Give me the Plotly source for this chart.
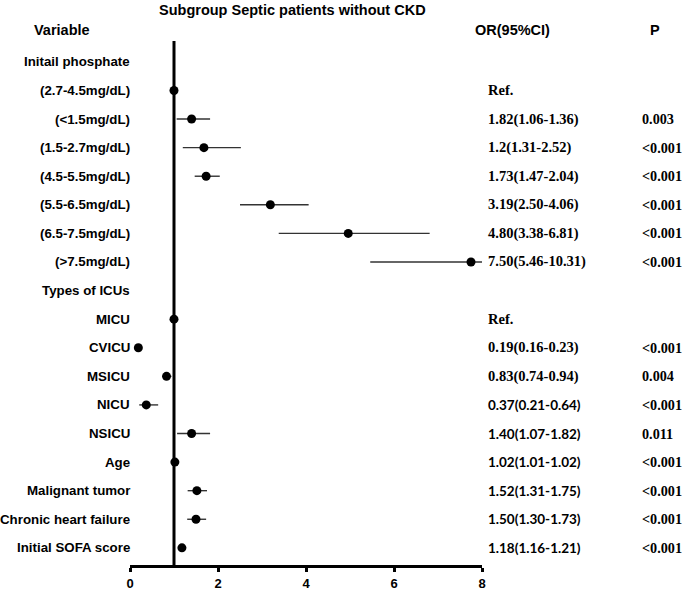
import plotly.graph_objects as go

title = "Subgroup Septic patients without CKD"
labels = ["Initail phosphate", "(2.7-4.5mg/dL)", "(<1.5mg/dL)", "(1.5-2.7mg/dL)", "(4.5-5.5mg/dL)",
          "(5.5-6.5mg/dL)", "(6.5-7.5mg/dL)", "(>7.5mg/dL)", "Types of ICUs", "MICU", "CVICU",
          "MSICU", "NICU", "NSICU", "Age", "Malignant tumor", "Chronic heart failure", "Initial SOFA score"]
or_vals = [None, 1.00, 1.40, 1.68, 1.73, 3.19, 4.96, 7.75, None, 1.00, 0.19,
           0.83, 0.37, 1.40, 1.02, 1.52, 1.50, 1.18]
ci_low = [None, 1.00, 1.06, 1.20, 1.47, 2.50, 3.38, 5.46, None, 1.00, 0.16,
          0.74, 0.21, 1.07, 1.01, 1.31, 1.30, 1.16]
ci_high = [None, 1.00, 1.82, 2.52, 2.04, 4.06, 6.81, 10.31, None, 1.00, 0.23,
           0.94, 0.64, 1.82, 1.02, 1.75, 1.73, 1.21]
or_text = ["", "Ref.", "1.82(1.06-1.36)", "1.2(1.31-2.52)", "1.73(1.47-2.04)", "3.19(2.50-4.06)",
           "4.80(3.38-6.81)", "7.50(5.46-10.31)", "", "Ref.", "0.19(0.16-0.23)", "0.83(0.74-0.94)",
           "0.37(0.21-0.64)", "1.40(1.07-1.82)", "1.02(1.01-1.02)", "1.52(1.31-1.75)",
           "1.50(1.30-1.73)", "1.18(1.16-1.21)"]
or_text_sans = [False] * 12 + [True] * 6
p_text = ["", "", "0.003", "<0.001", "<0.001", "<0.001", "<0.001", "<0.001", "", "", "<0.001",
          "0.004", "<0.001", "0.011", "<0.001", "<0.001", "<0.001", "<0.001"]
x_ticks = [0, 2, 4, 6, 8]

n = len(labels)
rows = [-i for i in range(n)]
px_, py_, ep, em = [], [], [], []
for i in range(n):
    if or_vals[i] is not None:
        px_.append(or_vals[i]); py_.append(rows[i])
        ep.append(ci_high[i] - or_vals[i]); em.append(or_vals[i] - ci_low[i])

fig = go.Figure()
fig.add_trace(go.Scatter(
    x=px_, y=py_, mode="markers",
    marker=dict(color="black", size=9),
    error_x=dict(type="data", array=ep, arrayminus=em, color="#333333", thickness=1.4, width=0),
    showlegend=False, hoverinfo="skip"))

fig.add_shape(type="line", xref="x", yref="paper", x0=1, x1=1, y0=0, y1=1,
              line=dict(color="black", width=3), layer="below")

sans = "Liberation Sans, Arial, sans-serif"
serif = "Liberation Serif, Times New Roman, serif"
calib = "Lato, Liberation Sans, sans-serif"

ann = []
for i in range(n):
    ann.append(dict(x=0.006, y=rows[i], xref="paper", yref="y", text=labels[i], showarrow=False,
                    xanchor="right", yanchor="middle",
                    font=dict(family=sans, size=13.3, color="black", weight="bold")))
    if or_text[i]:
        ann.append(dict(x=1.011, y=rows[i], xref="paper", yref="y", text=or_text[i], showarrow=False,
                        xanchor="left", yanchor="middle",
                        font=dict(family=calib if or_text_sans[i] else serif,
                                  size=13.5 if or_text_sans[i] else 14.5,
                                  color="black", weight="bold")))
    if p_text[i]:
        ann.append(dict(x=1.449, y=rows[i], xref="paper", yref="y", text=p_text[i], showarrow=False,
                        xanchor="left", yanchor="middle",
                        font=dict(family=serif, size=14.2, color="black", weight="bold")))

ann.append(dict(x=0.077, y=1.06, xref="paper", yref="paper", text=title, showarrow=False,
                xanchor="left", yanchor="middle",
                font=dict(family=sans, size=14.5, color="black", weight="bold")))
ann.append(dict(x=-0.278, y=1.021, xref="paper", yref="paper", text="Variable", showarrow=False,
                xanchor="left", yanchor="middle",
                font=dict(family=sans, size=14.5, color="black", weight="bold")))
ann.append(dict(x=1.088, y=1.021, xref="paper", yref="paper", text="OR(95%CI)", showarrow=False,
                xanchor="center", yanchor="middle",
                font=dict(family=sans, size=14.5, color="black", weight="bold")))
ann.append(dict(x=1.491, y=1.021, xref="paper", yref="paper", text="P", showarrow=False,
                xanchor="center", yanchor="middle",
                font=dict(family=sans, size=14.5, color="black", weight="bold")))

fig.update_layout(
    width=682, height=592,
    margin=dict(l=130, r=200, t=41, b=27, autoexpand=False),
    paper_bgcolor="white", plot_bgcolor="white",
    annotations=ann,
    xaxis=dict(range=[0, 8], tickvals=x_ticks, ticktext=[str(t) for t in x_ticks],
               showgrid=False, zeroline=False, showline=True, linecolor="black", linewidth=3,
               ticks="outside", ticklen=4, tickwidth=3, tickcolor="black", automargin=False,
               tickfont=dict(family=sans, size=13, color="black", weight="bold")),
    yaxis=dict(range=[-17.6, 0.73], visible=False, automargin=False),
)

fig.write_html("out.html", post_script="document.body.style.margin='0';",
               config={"displayModeBar": False})
